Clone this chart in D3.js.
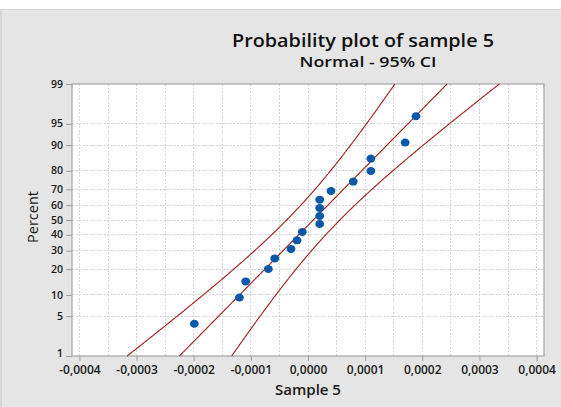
<!DOCTYPE html>
<html><head><meta charset="utf-8">
<script src="https://cdn.jsdelivr.net/npm/d3@7"></script>
<style>body{margin:0;background:#e5e5e5;} svg{display:block}</style>
</head><body><svg width="561" height="407"></svg>
<script>
// Data
const sample5 = [-0.000199, -0.000120, -0.000109, -0.0000694, -0.0000582, -0.0000297,
  -0.0000192, -0.0000100, 0.0000205, 0.0000205, 0.0000205, 0.0000205,
  0.0000402, 0.0000792, 0.000110, 0.000110, 0.000170, 0.000189];
const percentRank = [3.8, 9.24, 14.67, 20.11, 25.54, 30.98, 36.41, 41.85, 47.28,
  52.72, 58.15, 63.59, 69.02, 74.46, 79.89, 85.33, 90.76, 96.2];
const percentTicks = [1, 5, 10, 20, 30, 40, 50, 60, 70, 80, 90, 95, 99];
const xTicks = [-0.0004, -0.0003, -0.0002, -0.0001, 0, 0.0001, 0.0002, 0.0003, 0.0004];
const titleText = "Probability plot of sample 5";
const subtitleText = "Normal - 95% CI";
const xLabel = "Sample 5";
const yLabel = "Percent";

// inverse normal CDF (Acklam)
function probit(p) {
  const a = [-3.969683028665376e+01, 2.209460984245205e+02, -2.759285104469687e+02, 1.383577518672690e+02, -3.066479806614716e+01, 2.506628277459239e+00];
  const b = [-5.447609879822406e+01, 1.615858368580409e+02, -1.556989798598866e+02, 6.680131188771972e+01, -1.328068155288572e+01];
  const c = [-7.784894002430293e-03, -3.223964580411365e-01, -2.400758277161838e+00, -2.549732539343734e+00, 4.374664141464968e+00, 2.938163982698783e+00];
  const d = [7.784695709041462e-03, 3.224671290700398e-01, 2.445134137142996e+00, 3.754408661907416e+00];
  const pl = 0.02425;
  let q, r;
  if (p < pl) { q = Math.sqrt(-2 * Math.log(p));
    return (((((c[0]*q+c[1])*q+c[2])*q+c[3])*q+c[4])*q+c[5]) / ((((d[0]*q+d[1])*q+d[2])*q+d[3])*q+1); }
  if (p > 1 - pl) { q = Math.sqrt(-2 * Math.log(1 - p));
    return -(((((c[0]*q+c[1])*q+c[2])*q+c[3])*q+c[4])*q+c[5]) / ((((d[0]*q+d[1])*q+d[2])*q+d[3])*q+1); }
  q = p - 0.5; r = q * q;
  return (((((a[0]*r+a[1])*r+a[2])*r+a[3])*r+a[4])*r+a[5])*q / (((((b[0]*r+b[1])*r+b[2])*r+b[3])*r+b[4])*r+1);
}

const svg = d3.select("svg");
const L = 72, R = 544, T = 84, B = 356;
const x = d3.scaleLinear().domain([-0.000413, 0.000413]).range([L, R]);
const zMin = probit(0.01), zMax = probit(0.99);
const y = d3.scaleLinear().domain([zMin, zMax]).range([B, T]);
const FONT = "'Open Sans', sans-serif";

// background pieces
svg.append("rect").attr("x", 0).attr("y", 0).attr("width", 561).attr("height", 407).attr("fill", "#e5e5e5");
svg.append("rect").attr("x", 0).attr("y", 0).attr("width", 561).attr("height", 9).attr("fill", "#ffffff");
svg.append("rect").attr("x", 0).attr("y", 9).attr("width", 561).attr("height", 1).attr("fill", "#d2d2d2");
svg.append("rect").attr("x", 0).attr("y", 9).attr("width", 2).attr("height", 398).attr("fill", "#d6d6d6");

// plot area
svg.append("rect").attr("x", L).attr("y", T).attr("width", R - L).attr("height", B - T).attr("fill", "#ffffff");

const fmt = v => d3.format(".4f")(v).replace("−", "-").replace(".", ",");

// grid
const g = svg.append("g");
g.selectAll(".vg").data(x.ticks(16)).join("line")
  .attr("x1", d => x(d)).attr("x2", d => x(d)).attr("y1", T).attr("y2", B)
  .attr("stroke", "#d4d4d4").attr("stroke-dasharray", "2,1.5").attr("shape-rendering", "crispEdges");
g.selectAll(".hg").data(percentTicks.filter(p => p > 1 && p < 99)).join("line")
  .attr("x1", L).attr("x2", R).attr("y1", d => y(probit(d / 100))).attr("y2", d => y(probit(d / 100)))
  .attr("stroke", "#d4d4d4").attr("stroke-dasharray", "2,1.5").attr("shape-rendering", "crispEdges");

// axes
const xAxis = d3.axisBottom(x).tickValues(xTicks).tickSize(5).tickPadding(4).tickFormat(fmt);
const xg = svg.append("g").attr("transform", `translate(0,${B})`).call(xAxis);
xg.select(".domain").remove();
xg.selectAll("line").attr("stroke", "#9a9a9a");
xg.selectAll("text").attr("font-family", FONT).attr("font-size", 12)
  .attr("font-weight", 600).attr("fill", "#1a1a1a");

const yAxis = d3.axisLeft(y).tickValues(percentTicks.map(p => probit(p / 100))).tickSize(6).tickPadding(3)
  .tickFormat((d, i) => percentTicks[i]);
const yg = svg.append("g").attr("transform", `translate(${L},0)`).call(yAxis);
yg.select(".domain").remove();
yg.selectAll("line").attr("stroke", "#9a9a9a");
yg.selectAll("text").attr("font-family", FONT).attr("font-size", 10.5)
  .attr("dy", (d, i) => i === 0 ? "0.05em" : "0.3em")
  .attr("font-weight", 600).attr("fill", "#1a1a1a");

// frame
svg.append("rect").attr("x", L).attr("y", T).attr("width", R - L).attr("height", B - T)
  .attr("fill", "none").attr("stroke", "#a4a4a4").attr("stroke-width", 1.2);

// fit + CI
const n = sample5.length;
const mu = d3.mean(sample5), sd = d3.deviation(sample5);
const zs = d3.range(0, 201).map(i => zMin + (zMax - zMin) * i / 200);
const lineFn = f => d3.line().x(z => x(f(z))).y(z => y(z))(zs);
const se = z => 1.96 * sd * Math.sqrt(1 / n + z * z / (2 * (n - 1)));
const red = "#a11d1d";
[z => mu + z * sd - se(z), z => mu + z * sd, z => mu + z * sd + se(z)].forEach(f => {
  svg.append("path").attr("d", lineFn(f)).attr("fill", "none").attr("stroke", red).attr("stroke-width", 1.1);
});

// points
svg.append("g").selectAll("ellipse").data(sample5).join("ellipse")
  .attr("cx", d => x(d)).attr("cy", (d, i) => y(probit(percentRank[i] / 100)))
  .attr("rx", 4.4).attr("ry", 4).attr("fill", "#0a58a8");

// titles
svg.append("text").attr("x", 363).attr("y", 46.5).attr("text-anchor", "middle")
  .attr("font-family", FONT).attr("font-size", 18.5).attr("font-weight", 600)
  .attr("textLength", 262).attr("lengthAdjust", "spacingAndGlyphs")
  .attr("fill", "#111").text(titleText);
svg.append("text").attr("x", 368).attr("y", 67).attr("text-anchor", "middle")
  .attr("font-family", FONT).attr("font-size", 14.5).attr("font-weight", 600)
  .attr("textLength", 137).attr("lengthAdjust", "spacingAndGlyphs")
  .attr("fill", "#111").text(subtitleText);
svg.append("text").attr("x", 308).attr("y", 395).attr("text-anchor", "middle")
  .attr("font-family", FONT).attr("font-size", 15).attr("font-weight", 600)
  .attr("fill", "#1a1a1a").text(xLabel);
svg.append("text").attr("transform", "translate(38,217) rotate(-90)").attr("text-anchor", "middle")
  .attr("font-family", FONT).attr("font-size", 14.5)
  .attr("fill", "#1a1a1a").text(yLabel);
</script></body></html>
